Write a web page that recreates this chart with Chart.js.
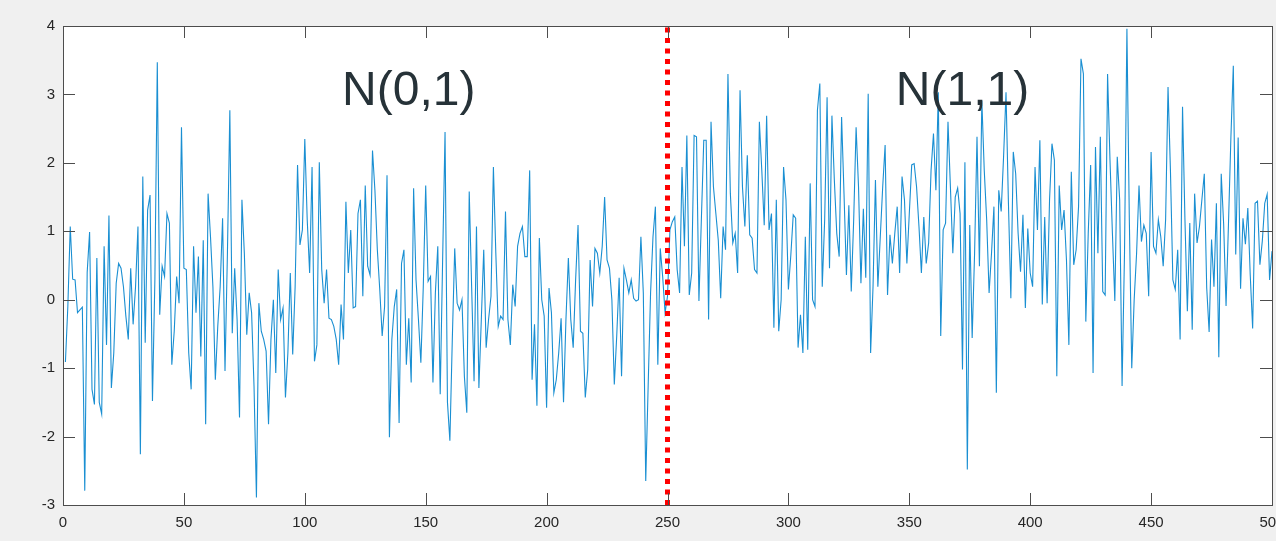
<!DOCTYPE html>
<html>
<head>
<meta charset="utf-8">
<script src="https://cdn.jsdelivr.net/npm/chart.js@4/dist/chart.umd.min.js"></script>
<style>
  html, body { margin: 0; padding: 0; overflow: hidden; background: #f0f0f0; }
  #wrap { width: 1276px; height: 541px; overflow: hidden; }
</style>
</head>
<body>
<div id="wrap"><canvas id="chart" width="1300" height="541"></canvas></div>
<script>
// samples 1..250, drawn from N(0,1)
const noiseFirstHalf = [
  -0.91, -0.10, 1.07, 0.30, 0.29, -0.19, -0.15, -0.11, -2.79, 0.40,
  0.99, -1.31, -1.53, 0.61, -1.50, -1.67, 0.78, -0.66, 1.23, -1.29,
  -0.78, 0.24, 0.53, 0.46, 0.19, -0.24, -0.58, 0.46, -0.36, 0.19,
  1.07, -2.26, 1.80, -0.63, 1.31, 1.53, -1.48, 0.30, 3.47, -0.22,
  0.49, 0.34, 1.26, 1.12, -0.95, -0.46, 0.34, -0.05, 2.52, 0.46,
  0.44, -0.78, -1.31, 0.78, -0.19, 0.63, -0.83, 0.87, -1.82, 1.55,
  0.92, 0.19, -1.17, -0.39, 0.19, 1.19, -1.04, 0.68, 2.77, -0.49,
  0.46, -0.29, -1.72, 1.46, 0.68, -0.51, 0.10, -0.19, -1.26, -2.89,
  -0.05, -0.46, -0.58, -0.75, -1.82, -0.58, 0.00, -1.07, 0.44, -0.29,
  -0.12, -1.43, -0.78, 0.39, -0.80, 0.19, 1.97, 0.80, 1.02, 2.35,
  1.17, 0.39, 1.94, -0.90, -0.66, 2.01, 0.44, -0.05, 0.44, -0.27,
  -0.29, -0.39, -0.58, -0.95, -0.07, -0.58, 1.43, 0.39, 1.02, -0.12,
  -0.10, 1.26, 1.46, 0.05, 1.67, 0.49, 0.36, 2.18, 1.60, 0.73,
  0.15, -0.53, -0.10, 1.82, -2.01, -0.58, -0.10, 0.15, -1.80, 0.53,
  0.73, -0.95, -0.27, -1.21, 1.63, 0.29, -0.29, -0.92, 0.19, 1.67,
  0.27, 0.34, -1.21, 0.10, 0.78, -1.38, 0.58, 2.45, -1.50, -2.06,
  -0.58, 0.75, -0.05, -0.15, 0.00, -1.12, -1.65, 1.58, 0.19, -1.19,
  1.07, -1.29, -0.29, 0.73, -0.70, -0.29, 0.05, 1.94, 0.68, -0.39,
  -0.24, -0.29, 1.29, -0.29, -0.66, 0.22, -0.10, 0.78, 0.97, 1.07,
  0.63, 0.63, 1.89, -1.17, -0.36, -1.55, 0.90, 0.00, -0.24, -1.58,
  0.17, -0.19, -1.36, -1.17, -0.78, -0.27, -1.50, -0.29, 0.61, -0.29,
  -0.70, 0.29, 1.09, -0.46, -0.49, -1.43, -1.02, 0.58, -0.10, 0.75,
  0.68, 0.39, 0.78, 1.50, 0.58, 0.46, 0.00, -1.24, -0.53, 0.32,
  -1.12, 0.46, 0.29, 0.10, 0.29, 0.02, -0.02, 0.00, 0.92, 0.10,
  -2.65, -1.26, 0.10, 0.92, 1.36, -0.95, 0.75, 0.34, -0.19, 0.05
];

// samples 251..500, drawn from N(1,1)
const noiseSecondHalf = [
  1.02, 1.14, 1.21, 0.44, 0.10, 1.94, 0.78, 2.40, 0.07, 0.39,
  2.40, 2.38, -0.02, 1.17, 2.33, 2.33, -0.29, 2.60, 1.65, 1.26,
  0.87, 0.02, 1.07, 0.73, 3.30, 1.55, 0.83, 0.97, 0.39, 3.06,
  1.65, 1.07, 2.11, 0.95, 0.90, 0.44, 0.39, 2.60, 1.89, 1.09,
  2.69, 1.02, 1.26, -0.41, 1.46, -0.46, 0.00, 1.94, 1.46, 0.15,
  0.65, 1.24, 1.19, -0.70, -0.22, -0.78, 0.92, -0.73, 1.70, 0.00,
  -0.10, 2.77, 3.16, 0.19, 1.17, 2.96, 0.46, 2.69, 1.75, 0.97,
  0.63, 2.67, 1.55, 0.36, 1.38, 0.12, 1.17, 2.52, 1.65, 0.24,
  1.33, 0.32, 3.01, -0.78, 0.19, 1.75, 0.19, 0.92, 1.65, 2.26,
  0.07, 0.95, 0.53, 0.97, 1.36, 0.39, 1.80, 1.46, 0.53, 1.26,
  1.97, 1.99, 1.65, 1.07, 0.39, 1.21, 0.53, 0.83, 1.89, 2.43,
  1.60, 3.03, -0.53, 1.02, 1.12, 2.60, 1.65, 0.68, 1.50, 1.63,
  1.26, -1.02, 2.01, -2.48, 1.09, -0.56, 0.68, 2.38, 0.49, 2.91,
  1.89, 1.17, 0.10, 0.68, 1.36, -1.36, 1.60, 1.29, 2.10, 3.03,
  1.41, 0.02, 2.16, 1.84, 0.97, 0.41, 1.24, -0.12, 1.04, 0.39,
  0.19, 1.94, 1.02, 2.33, -0.07, 1.21, -0.05, 1.46, 2.28, 2.04,
  -1.12, 1.67, 1.02, 1.31, 0.58, -0.66, 1.87, 0.51, 0.73, 1.36,
  3.52, 3.30, -0.32, 0.97, 1.97, -1.07, 2.23, 0.68, 2.38, 0.12,
  0.07, 3.30, 2.04, 0.97, -0.02, 2.09, 1.46, -1.26, 0.68, 3.96,
  1.17, -1.00, 0.00, 0.68, 1.67, 0.85, 1.09, 0.97, 0.05, 2.16,
  0.78, 0.68, 1.17, 0.92, 0.49, 1.17, 3.11, 1.89, 0.29, 0.15,
  0.73, -0.58, 2.82, 1.17, -0.17, 1.12, -0.44, 1.55, 0.83, 1.07,
  1.46, 1.84, 0.17, -0.47, 0.88, 0.19, 1.41, -0.84, 1.84, 1.11,
  -0.09, 1.11, 2.37, 3.42, 0.66, 2.37, 0.16, 1.19, 0.81, 1.34,
  0.36, -0.42, 1.41, 1.44, 0.51, 0.86, 1.41, 1.54, 0.29, 0.71
];

// change point marker
const dividerX = [250, 250];
const dividerY = [-3, 4];

// region labels (data coords)
const regionLabels = ['N(0,1)', 'N(1,1)'];
const regionLabelX = [143, 372];
const regionLabelY = [3.04, 3.04];

const AXIS_COLOR = '#4d4d4d';
const TEXT_COLOR = '#262626';

const samples = noiseFirstHalf.concat(noiseSecondHalf);
const linePoints = samples.map((v, k) => ({ x: k + 1, y: v }));
const dividerPoints = dividerX.map((x, k) => ({ x: x, y: dividerY[k] }));

// gray figure, white axes box
const backdrop = {
  id: 'backdrop',
  beforeDraw(chart) {
    const { ctx, chartArea: a } = chart;
    ctx.save();
    ctx.fillStyle = '#f0f0f0';
    ctx.fillRect(0, 0, chart.width, chart.height);
    ctx.fillStyle = '#ffffff';
    ctx.fillRect(a.left, a.top, a.right - a.left, a.bottom - a.top);
    ctx.restore();
  }
};

// matlab-style box with inward ticks + region labels
const boxAndLabels = {
  id: 'boxAndLabels',
  afterDatasetsDraw(chart) {
    const { ctx, chartArea: a, scales } = chart;
    const xs = scales.x, ys = scales.y;
    const tl = 12;
    ctx.save();
    ctx.strokeStyle = AXIS_COLOR;
    ctx.lineWidth = 1;
    ctx.beginPath();
    xs.ticks.forEach(t => {
      const px = Math.round(xs.getPixelForValue(t.value)) + 0.5;
      ctx.moveTo(px, a.bottom); ctx.lineTo(px, a.bottom - tl);
      ctx.moveTo(px, a.top); ctx.lineTo(px, a.top + tl);
    });
    ys.ticks.forEach(t => {
      const py = Math.round(ys.getPixelForValue(t.value)) + 0.5;
      ctx.moveTo(a.left, py); ctx.lineTo(a.left + tl, py);
      ctx.moveTo(a.right, py); ctx.lineTo(a.right - tl, py);
    });
    ctx.stroke();
    ctx.strokeRect(Math.round(a.left) + 0.5, Math.round(a.top) + 0.5,
      Math.round(a.right - a.left), Math.round(a.bottom - a.top));

    ctx.fillStyle = '#263238';
    ctx.font = '48px "Liberation Sans", Arial, sans-serif';
    ctx.textAlign = 'center';
    ctx.textBaseline = 'middle';
    regionLabels.forEach((txt, k) => {
      ctx.fillText(txt, xs.getPixelForValue(regionLabelX[k]), ys.getPixelForValue(regionLabelY[k]));
    });
    ctx.restore();
  }
};

const ctx = document.getElementById('chart').getContext('2d');
new Chart(ctx, {
  type: 'line',
  data: {
    datasets: [
      {
        label: 'signal',
        data: linePoints,
        borderColor: '#1a8fd2',
        borderWidth: 1.1,
        pointRadius: 0,
        tension: 0,
        fill: false,
        order: 2
      },
      {
        label: 'change point',
        data: dividerPoints,
        borderColor: '#ff0000',
        borderWidth: 5,
        borderDash: [5, 5.5],
        borderCapStyle: 'butt',
        pointRadius: 0,
        fill: false,
        order: 1
      }
    ]
  },
  options: {
    responsive: false,
    animation: false,
    devicePixelRatio: 1,
    layout: { padding: { top: 26, right: 28, left: 0, bottom: 0 } },
    plugins: {
      legend: { display: false },
      tooltip: { enabled: false }
    },
    scales: {
      x: {
        type: 'linear',
        min: 0,
        max: 500,
        grid: { display: false, drawTicks: false },
        border: { display: false },
        ticks: {
          stepSize: 50,
          padding: 9,
          color: TEXT_COLOR,
          font: { family: '"Liberation Sans", Arial, sans-serif', size: 15 },
          maxRotation: 0,
          autoSkip: false
        },
        afterFit(s) { s.height = 36; }
      },
      y: {
        min: -3,
        max: 4,
        grid: { display: false, drawTicks: false },
        border: { display: false },
        ticks: {
          stepSize: 1,
          padding: 8,
          color: TEXT_COLOR,
          font: { family: '"Liberation Sans", Arial, sans-serif', size: 15 }
        },
        afterFit(s) { s.width = 63; }
      }
    }
  },
  plugins: [backdrop, boxAndLabels]
});
</script>
</body>
</html>
